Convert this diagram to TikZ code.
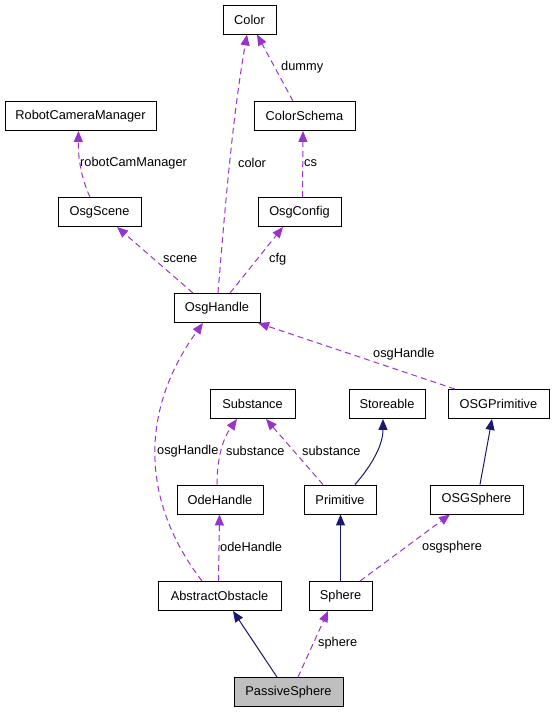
\documentclass[tikz,border=0pt]{standalone}
\usepackage{fontspec}
\setmainfont{Liberation Sans}
\usetikzlibrary{arrows.meta}
\definecolor{dep}{HTML}{9A32CD}
\definecolor{inh}{HTML}{191970}
\tikzset{
  box/.style={draw=black, line width=0.9pt, minimum height=29pt, inner sep=0pt, font=\fontsize{12.8}{15}\selectfont, fill=white},
  deparrow/.style={draw=dep, line width=1pt, dash pattern=on 6pt off 4pt, -{Triangle[length=11pt,width=9pt,fill=dep]}},
  inharrow/.style={draw=inh, line width=1pt, -{Triangle[length=11pt,width=9pt,fill=inh]}},
  lbl/.style={anchor=west, inner sep=0pt, font=\fontsize{12.8}{15}\selectfont},
}
\begin{document}
\begin{tikzpicture}[x=1pt,y=-1pt]
\useasboundingbox (0,0) rectangle (555,712);
\node[box, minimum width=53pt] (Color) at (249.5,19.5) {Color};
\node[box, minimum width=151pt] (RCM) at (80.5,116) {RobotCameraManager};
\node[box, minimum width=101pt] (ColorSchema) at (304.5,116) {ColorSchema};
\node[box, minimum width=83pt] (OsgScene) at (99.5,212) {OsgScene};
\node[box, minimum width=83pt] (OsgConfig) at (299.5,212) {OsgConfig};
\node[box, minimum width=86pt] (OsgHandle) at (217,308) {OsgHandle};
\node[box, minimum width=85pt] (Substance) at (252.5,404) {Substance};
\node[box, minimum width=76pt] (Storeable) at (387,404) {Storeable};
\node[box, minimum width=101pt] (OSGPrimitive) at (498.5,404) {OSGPrimitive};
\node[box, minimum width=86pt] (OdeHandle) at (220,499.5) {OdeHandle};
\node[box, minimum width=72pt] (Primitive) at (340,499.5) {Primitive};
\node[box, minimum width=93pt] (OSGSphere) at (476.5,499.5) {OSGSphere};
\node[box, minimum width=123pt] (AbstractObstacle) at (219.5,596) {AbstractObstacle};
\node[box, minimum width=63pt] (Sphere) at (340.5,596) {Sphere};
\node[box, minimum width=109pt, fill={rgb,255:red,191;green,191;blue,191}] (PassiveSphere) at (288.5,692) {PassiveSphere};

% dependency edges
\draw[deparrow] ([xshift=1pt]OsgHandle.north) .. controls (224,220) and (232,120) .. ([xshift=-2.5pt]Color.south);
\node[lbl] (lcolor) at (238,163) {color};
\draw[deparrow] ([xshift=-11.5pt]ColorSchema.north) -- ([xshift=7.5pt]Color.south);
\node[lbl] (ldummy) at (281,67) {dummy};
\draw[deparrow] ([xshift=-9.5pt]OsgScene.north) .. controls (82,180) and (78,160) .. ([xshift=-2pt]RCM.south);
\node[lbl] (lrcm) at (80,163) {robotCamManager};
\draw[deparrow] ([xshift=3pt]OsgConfig.north) -- ([xshift=-1.5pt]ColorSchema.south);
\node[lbl] (lcs) at (304,163) {cs};
\draw[deparrow] ([xshift=-24pt]OsgHandle.north) -- ([xshift=17.5pt]OsgScene.south);
\node[lbl] (lscene) at (163,259) {scene};
\draw[deparrow] ([xshift=13pt]OsgHandle.north) -- ([xshift=-16.5pt]OsgConfig.south);
\node[lbl] (lcfg) at (269,259) {cfg};
\draw[deparrow] ([xshift=-43.5pt]OSGPrimitive.north) -- ([xshift=41pt]OsgHandle.south);
\node[lbl] (losg1) at (373,354) {osgHandle};
\draw[deparrow] ([xshift=-17.5pt]AbstractObstacle.north) .. controls (140,500) and (140,410) .. ([xshift=-14pt]OsgHandle.south);
\node[lbl] (losg2) at (157,451) {osgHandle};
\draw[deparrow] ([xshift=-3pt]OdeHandle.north) .. controls (217,460) and (222,440) .. ([xshift=-15.5pt]Substance.south);
\node[lbl] (lsub1) at (226,451) {substance};
\draw[deparrow] ([xshift=-17pt]Primitive.north) -- ([xshift=13.5pt]Substance.south);
\node[lbl] (lsub2) at (302,451) {substance};
\draw[deparrow] ([xshift=-1pt]AbstractObstacle.north) -- ([xshift=-0.5pt]OdeHandle.south);
\node[lbl] (lode) at (220,547) {odeHandle};
\draw[deparrow] ([xshift=19.5pt]Sphere.north) -- ([xshift=-26.5pt]OSGSphere.south);
\node[lbl] (losgs) at (422,547) {osgsphere};
\draw[deparrow] ([xshift=9.5pt]PassiveSphere.north) -- ([xshift=-12.5pt]Sphere.south);
\node[lbl] (lsphere) at (318,643) {sphere};

% inheritance edges
\draw[inharrow] ([xshift=15pt]Primitive.north) .. controls (372,465) and (383,445) .. ([xshift=-4pt]Storeable.south);
\draw[inharrow] ([xshift=3.5pt]OSGSphere.north) -- ([xshift=-6.5pt]OSGPrimitive.south);
\draw[inharrow] (Sphere.north) -- ([xshift=0.5pt]Primitive.south);
\draw[inharrow] ([xshift=-11.5pt]PassiveSphere.north) -- ([xshift=13.5pt]AbstractObstacle.south);
\end{tikzpicture}
\end{document}
